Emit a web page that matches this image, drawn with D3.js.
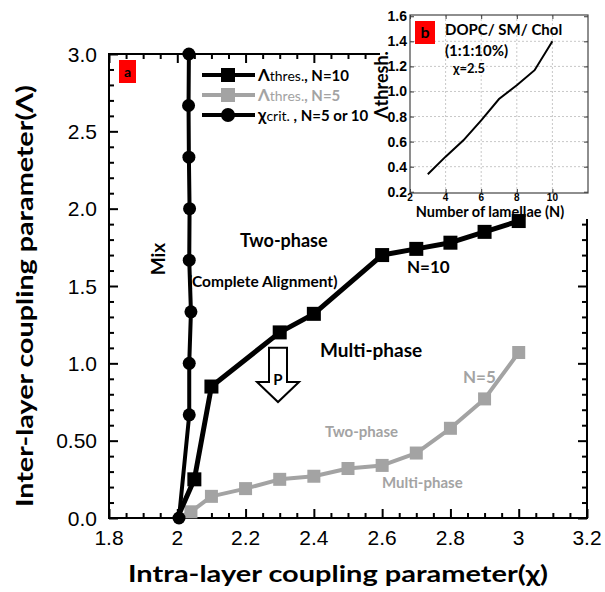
<!DOCTYPE html>
<html>
<head>
<meta charset="utf-8">
<script src="https://cdn.jsdelivr.net/npm/d3@7"></script>
<style>
body { margin: 0; background: #fff; }
svg { display: block; }
text { font-family: Lato, 'Liberation Sans', sans-serif; }
.num { font-family: 'Liberation Sans', Arial, sans-serif; }
</style>
</head>
<body>
<svg id="svg" width="605" height="592"></svg>
<script>
// main panel (a)
const chiN10 = [2.0, 2.05, 2.1, 2.3, 2.4, 2.6, 2.7, 2.8, 2.9, 3.0];
const lamN10 = [0.0, 0.25, 0.85, 1.2, 1.32, 1.7, 1.74, 1.78, 1.85, 1.92];
const chiN5 = [2.0, 2.04, 2.1, 2.2, 2.3, 2.4, 2.5, 2.6, 2.7, 2.8, 2.9, 3.0];
const lamN5 = [0.0, 0.04, 0.14, 0.19, 0.25, 0.27, 0.32, 0.34, 0.42, 0.58, 0.77, 1.07];
const chiCrit = [2.005, 2.035, 2.035, 2.04, 2.035, 2.036, 2.034, 2.033, 2.034];
const lamCrit = [0.0, 0.667, 1.0, 1.333, 1.667, 2.0, 2.333, 2.667, 3.0];
const xTicks = [1.8, 2.0, 2.2, 2.4, 2.6, 2.8, 3.0, 3.2];
const xTickLabels = ['1.8', '2', '2.2', '2.4', '2.6', '2.8', '3', '3.2'];
const yTicks = [0, 0.5, 1.0, 1.5, 2.0, 2.5, 3.0];
const yTickLabels = ['0.0', '0.50', '1.0', '1.5', '2.0', '2.5', '3.0'];

// inset (b)
const nLamellae = [3, 4, 5, 6, 7, 8, 9, 10];
const lamThresh = [0.34, 0.48, 0.61, 0.77, 0.94, 1.05, 1.17, 1.40];
const nTicks = [2, 4, 6, 8, 10];
const nTickLabels = ['2', '4', '6', '8', '10'];
const tTicks = [0.2, 0.4, 0.6, 0.8, 1.0, 1.2, 1.4, 1.6];
const tTickLabels = ['0.2', '0.4', '0.6', '0.8', '1.0', '1.2', '1.4', '1.6'];

const GRAY = '#a3a3a3';
const svg = d3.select('#svg');

const x = d3.scaleLinear().domain([1.8, 3.2]).range([109, 587]);
const y = d3.scaleLinear().domain([0, 3]).range([518, 54]);

const range = (a, b, s) => d3.range(Math.round((b - a) / s) + 1).map((i) => +(a + i * s).toFixed(3));
const xMinor = range(1.8, 3.2, 0.05).filter((v) => xTicks.indexOf(v) < 0);
const yMinor = range(0, 3, 0.1).filter((v) => yTicks.indexOf(v) < 0);

function drawAxes() {
	const g = svg.append('g');
	const sides = [
		['bottom', d3.axisBottom(x), y(0), xTicks, xMinor],
		['top', d3.axisTop(x), y(3), xTicks, xMinor],
		['left', d3.axisLeft(y), x(1.8), yTicks, yMinor],
		['right', d3.axisRight(y), x(3.2), yTicks, yMinor],
	];
	sides.forEach(([side, ax, pos, major, minor]) => {
		const horiz = side === 'bottom' || side === 'top';
		const tr = horiz ? `translate(0,${pos})` : `translate(${pos},0)`;
		g.append('g').attr('transform', tr)
			.call(ax.tickValues(minor).tickSize(-5).tickFormat('').tickSizeOuter(0));
		g.append('g').attr('transform', tr)
			.call(ax.tickValues(major).tickSize(-9).tickFormat('').tickSizeOuter(0));
	});
	g.selectAll('path.domain').remove();
	g.selectAll('line').attr('stroke', '#000').attr('stroke-width', 2);
	g.append('rect')
		.attr('x', x(1.8)).attr('y', y(3))
		.attr('width', x(3.2) - x(1.8)).attr('height', y(0) - y(3))
		.attr('fill', 'none').attr('stroke', '#000').attr('stroke-width', 2);

	g.selectAll('text.xl').data(xTicks).enter().append('text')
		.attr('class', 'num')
		.attr('x', (d) => x(d)).attr('y', 545)
		.attr('text-anchor', 'middle').attr('font-size', 21)
		.text((d, i) => xTickLabels[i]);
	g.selectAll('text.yl').data(yTicks).enter().append('text')
		.attr('class', 'num')
		.attr('x', 97).attr('y', (d) => y(d) + 7.5)
		.attr('text-anchor', 'end').attr('font-size', 21)
		.text((d, i) => yTickLabels[i]);

	svg.append('text')
		.attr('x', 338).attr('y', 582)
		.attr('text-anchor', 'middle').attr('font-size', 23).attr('font-weight', 'bold')
		.attr('textLength', 420).attr('lengthAdjust', 'spacingAndGlyphs')
		.text('Intra-layer coupling parameter(χ)');
	svg.append('text')
		.attr('transform', 'translate(33,296) rotate(-90)')
		.attr('text-anchor', 'middle').attr('font-size', 23).attr('font-weight', 'bold')
		.attr('textLength', 422).attr('lengthAdjust', 'spacingAndGlyphs')
		.text('Inter-layer coupling parameter(Λ)');
}

function drawSeries(xs, ys, color, width) {
	const pts = xs.map((d, i) => [x(d), y(ys[i])]);
	svg.append('path')
		.attr('d', d3.line()(pts))
		.attr('fill', 'none').attr('stroke', color).attr('stroke-width', width)
		.attr('stroke-linejoin', 'round');
	return pts;
}

function drawSquares(pts, color, size) {
	svg.append('g').selectAll('rect').data(pts).enter().append('rect')
		.attr('x', (d) => d[0] - size / 2).attr('y', (d) => d[1] - size / 2)
		.attr('width', size).attr('height', size)
		.attr('fill', color);
}

function drawInset() {
	const xi = d3.scaleLinear().domain([2, 12]).range([410, 588]);
	const yi = d3.scaleLinear().domain([0.19, 1.61]).range([193, 15]);
	// white patch behind the inset
	svg.append('rect').attr('x', 380).attr('y', 0).attr('width', 225).attr('height', 219).attr('fill', '#fff');
	const g = svg.append('g');
	g.selectAll('line.gx').data(nTicks.slice(1)).enter().append('line')
		.attr('x1', (d) => xi(d)).attr('x2', (d) => xi(d))
		.attr('y1', yi(1.61)).attr('y2', yi(0.19))
		.attr('stroke', '#c8c8c8').attr('stroke-width', 1).attr('stroke-dasharray', '2,2');
	g.selectAll('line.gy').data(tTicks.slice(1, -1)).enter().append('line')
		.attr('x1', xi(2)).attr('x2', xi(12))
		.attr('y1', (d) => yi(d)).attr('y2', (d) => yi(d))
		.attr('stroke', '#c8c8c8').attr('stroke-width', 1).attr('stroke-dasharray', '2,2');
	const ax = g.append('g');
	ax.append('g').attr('transform', `translate(0,${yi(0.19)})`)
		.call(d3.axisBottom(xi).tickValues(nTicks).tickSize(-4).tickFormat('').tickSizeOuter(0));
	ax.append('g').attr('transform', `translate(0,${yi(1.61)})`)
		.call(d3.axisTop(xi).tickValues(nTicks).tickSize(-4).tickFormat('').tickSizeOuter(0));
	ax.append('g').attr('transform', `translate(${xi(2)},0)`)
		.call(d3.axisLeft(yi).tickValues(tTicks).tickSize(-4).tickFormat('').tickSizeOuter(0));
	ax.append('g').attr('transform', `translate(${xi(12)},0)`)
		.call(d3.axisRight(yi).tickValues(tTicks).tickSize(-4).tickFormat('').tickSizeOuter(0));
	ax.selectAll('path.domain').remove();
	ax.selectAll('line').attr('stroke', '#333').attr('stroke-width', 1);
	g.append('rect')
		.attr('x', xi(2)).attr('y', yi(1.61))
		.attr('width', xi(12) - xi(2)).attr('height', yi(0.19) - yi(1.61))
		.attr('fill', 'none').attr('stroke', '#444').attr('stroke-width', 1.2);

	g.selectAll('text.nl').data(nTicks).enter().append('text')
		.attr('class', 'num')
		.attr('x', (d) => xi(d)).attr('y', 201)
		.attr('text-anchor', 'middle').attr('font-size', 10).attr('font-weight', 'bold')
		.text((d, i) => nTickLabels[i]);
	g.selectAll('text.tl').data(tTicks).enter().append('text')
		.attr('class', 'num')
		.attr('x', 407).attr('y', (d) => yi(d) + 5)
		.attr('text-anchor', 'end').attr('font-size', 14).attr('font-weight', 'bold')
		.text((d, i) => tTickLabels[i]);

	g.append('path')
		.attr('d', d3.line()(nLamellae.map((d, i) => [xi(d), yi(lamThresh[i])])))
		.attr('fill', 'none').attr('stroke', '#000').attr('stroke-width', 2);

	g.append('text')
		.attr('x', 490).attr('y', 217)
		.attr('text-anchor', 'middle').attr('font-size', 14.5).attr('font-weight', 'bold')
		.text('Number of lamellae (N)');
	g.append('text')
		.attr('transform', 'translate(388,85) rotate(-90)')
		.attr('text-anchor', 'middle').attr('font-size', 18).attr('font-weight', 'bold')
		.text('Λthresh.');

	g.append('rect').attr('x', 415).attr('y', 21).attr('width', 20).attr('height', 23).attr('fill', '#f00');
	g.append('text').attr('x', 425).attr('y', 38).attr('text-anchor', 'middle')
		.attr('font-size', 16).attr('font-weight', 'bold').text('b');
	g.append('text').attr('x', 445).attr('y', 35)
		.attr('font-size', 15).attr('font-weight', 'bold').text('DOPC/ SM/ Chol');
	g.append('text').attr('x', 445).attr('y', 56)
		.attr('font-size', 15).attr('font-weight', 'bold').text('(1:1:10%)');
	g.append('text').attr('x', 453).attr('y', 73)
		.attr('font-size', 13).attr('font-weight', 'bold').text('χ=2.5');
}

function drawLegend() {
	const rows = [
		{ y: 75, color: '#000', mark: 'square', big: 'Λ', sub: 'thres.', rest: ', N=10' },
		{ y: 95, color: GRAY, mark: 'square', big: 'Λ', sub: 'thres.', rest: ', N=5' },
		{ y: 115, color: '#000', mark: 'circle', big: 'χ', sub: 'crit.', rest: ' , N=5 or 10' },
	];
	const g = svg.append('g');
	rows.forEach((r) => {
		g.append('line').attr('x1', 202).attr('x2', 255).attr('y1', r.y).attr('y2', r.y)
			.attr('stroke', r.color).attr('stroke-width', 4);
		if (r.mark === 'square') {
			g.append('rect').attr('x', 221).attr('y', r.y - 7).attr('width', 14).attr('height', 14).attr('fill', r.color);
		} else {
			g.append('circle').attr('cx', 228).attr('cy', r.y).attr('r', 7).attr('fill', r.color);
		}
		const t = g.append('text').attr('x', 258).attr('y', r.y + 6).attr('fill', r.color);
		t.append('tspan').attr('font-size', 17).attr('font-weight', 'bold').text(r.big);
		t.append('tspan').attr('font-size', 14).text(r.sub);
		t.append('tspan').attr('font-size', 15).attr('font-weight', 'bold').text(r.rest);
	});
}

function drawNotes() {
	const note = (tx, ty, s, size, color, rot) => {
		const t = svg.append('text').attr('font-size', size).attr('font-weight', 'bold')
			.attr('fill', color || '#000').text(s);
		if (rot) t.attr('transform', `translate(${tx},${ty}) rotate(-90)`).attr('text-anchor', 'middle');
		else t.attr('x', tx).attr('y', ty);
	};
	note(165, 259, 'Mix', 19, '#000', true);
	note(240, 247, 'Two-phase', 18);
	note(188, 287, '(Complete Alignment)', 15.5);
	note(407, 273, 'N=10', 17);
	note(320, 357, 'Multi-phase', 19);
	note(463, 383, 'N=5', 17, GRAY);
	note(325, 437, 'Two-phase', 15, GRAY);
	note(382, 488, 'Multi-phase', 15, GRAY);

	// pressure arrow
	const cx = x(2.295), top = y(1.10), neck = y(0.88), tip = y(0.75);
	svg.append('path')
		.attr('d', `M${cx - 9},${top}H${cx + 9}V${neck}H${cx + 21}L${cx},${tip}L${cx - 21},${neck}H${cx - 9}Z`)
		.attr('fill', '#fff').attr('stroke', '#000').attr('stroke-width', 2);
	svg.append('text').attr('x', cx).attr('y', y(0.86)).attr('text-anchor', 'middle')
		.attr('font-size', 15).attr('font-weight', 'bold').text('P');

	svg.append('rect').attr('x', 119).attr('y', 60).attr('width', 17).attr('height', 23).attr('fill', '#f00');
	svg.append('text').attr('x', 127.5).attr('y', 77).attr('text-anchor', 'middle')
		.attr('font-size', 14).attr('font-weight', 'bold').text('a');
}

drawAxes();
drawInset();
const n5 = drawSeries(chiN5, lamN5, GRAY, 4);
drawSquares(n5.slice(1), GRAY, 13);
const n10 = drawSeries(chiN10, lamN10, '#000', 5);
drawSquares(n10.slice(1), '#000', 14);
const crit = drawSeries(chiCrit, lamCrit, '#000', 4);
svg.append('g').selectAll('circle').data(crit).enter().append('circle')
	.attr('cx', (d) => d[0]).attr('cy', (d) => d[1]).attr('r', 6.5).attr('fill', '#000');
drawLegend();
drawNotes();
</script>
</body>
</html>
